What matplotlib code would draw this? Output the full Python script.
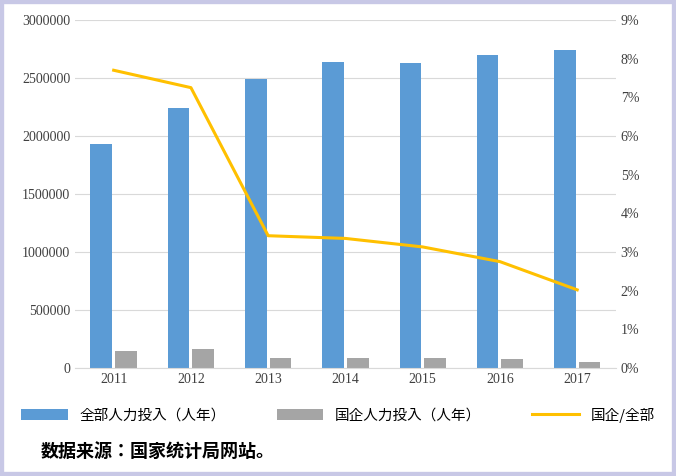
import numpy as np
import matplotlib.pyplot as plt
from matplotlib.patches import Rectangle

plt.rcParams["font.sans-serif"] = ["Noto Sans CJK SC", "Noto Sans CJK JP", "DejaVu Sans"]
plt.rcParams["font.family"] = "sans-serif"

years = ["2011", "2012", "2013", "2014", "2015", "2016", "2017"]
total = [1930000, 2245000, 2495000, 2640000, 2630000, 2700000, 2740000]
soe = [150000, 160000, 85000, 90000, 85000, 75000, 55000]
ratio = [7.7, 7.25, 3.42, 3.35, 3.13, 2.75, 2.02]

fig = plt.figure(figsize=(6.76, 4.76), dpi=100)
fig.patches.append(Rectangle((0, 0), 1, 1, transform=fig.transFigure, fill=False,
                             edgecolor="#c8c8e6", linewidth=6))
ax = fig.add_axes([0.111, 0.227, 0.8, 0.731])
x = np.arange(len(years))
w = 0.28
ax.bar(x - 0.16, total, w, color="#5b9bd5", label="全部人力投入（人年）", zorder=2)
ax.bar(x + 0.16, soe, w, color="#a5a5a5", label="国企人力投入（人年）", zorder=2)
ax.set_ylim(0, 3000000)
yt = list(range(0, 3000001, 500000))
ax.set_yticks(yt, [str(v) for v in yt])
ax.set_xlim(-0.5, len(years) - 0.5)
ax.set_xticks(x, years)
ax.yaxis.grid(True, color="#d9d9d9", zorder=0)
for s in ["top", "right", "left"]:
    ax.spines[s].set_visible(False)
ax.spines["bottom"].set_color("#d9d9d9")
ax.tick_params(length=0, labelsize=10, colors="#404040")
for lab in ax.get_xticklabels() + ax.get_yticklabels():
    lab.set_fontfamily("Liberation Serif")

ax2 = ax.twinx()
ax2.plot(x, ratio, color="#ffc000", linewidth=2.2, label="国企/全部")
ax2.set_ylim(0, 9)
ax2.set_yticks(range(0, 10), [f"{i}%" for i in range(10)])
for s in ax2.spines.values():
    s.set_visible(False)
ax2.tick_params(length=0, labelsize=10, colors="#404040")
for lab in ax2.get_yticklabels():
    lab.set_fontfamily("Liberation Serif")

h1, l1 = ax.get_legend_handles_labels()
h2, l2 = ax2.get_legend_handles_labels()
fig.legend(h1 + h2, l1 + l2, loc="center", bbox_to_anchor=(0.5, 0.128), ncol=3,
           frameon=False, fontsize=10.5, handlelength=3.2, columnspacing=3.5)
fig.text(0.06, 0.04, "数据来源：国家统计局网站。", fontsize=13, fontweight="bold")
fig.savefig("out.png", dpi=100)
